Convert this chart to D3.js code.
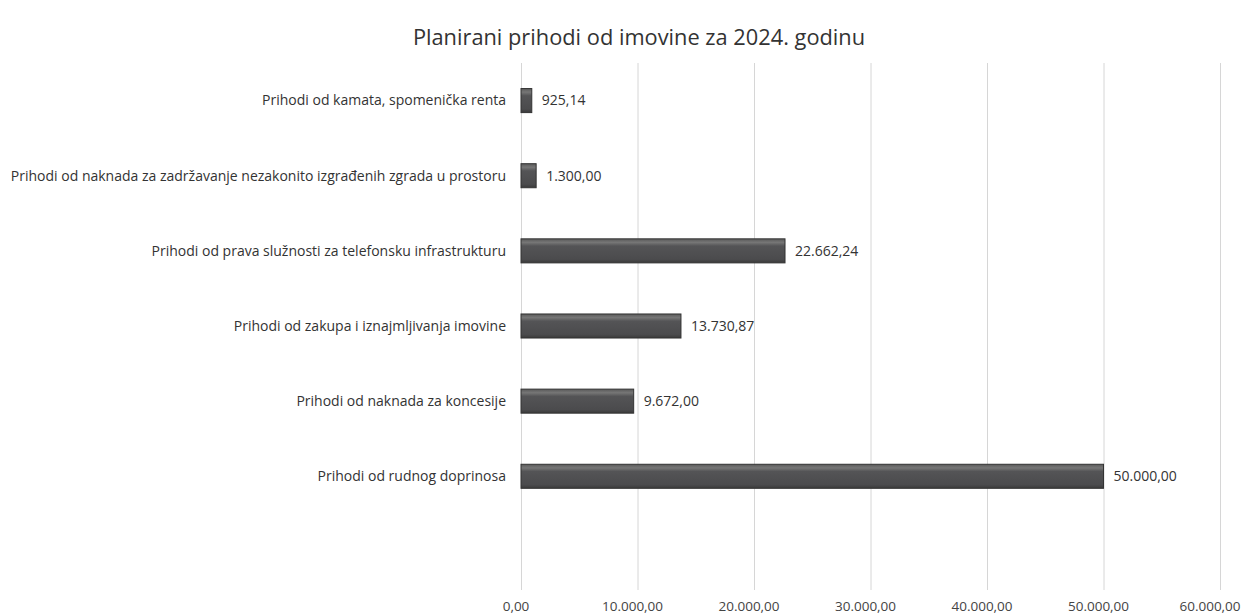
<!DOCTYPE html>
<html><head><meta charset="utf-8">
<script src="https://cdn.jsdelivr.net/npm/d3@7"></script>
<style>body{margin:0;background:#fff}svg{display:block}</style>
</head><body><svg id="c" width="1247" height="616"></svg>
<script>
const title = "Planirani prihodi od imovine za 2024. godinu";
const categories = [
  "Prihodi od kamata, spomenička renta",
  "Prihodi od naknada za zadržavanje nezakonito izgrađenih zgrada u prostoru",
  "Prihodi od prava služnosti za telefonsku infrastrukturu",
  "Prihodi od zakupa i iznajmljivanja imovine",
  "Prihodi od naknada za koncesije",
  "Prihodi od rudnog doprinosa",
  ""
];
const values = [925.14, 1300.00, 22662.24, 13730.87, 9672.00, 50000.00, null];
const tickValues = [0, 10000, 20000, 30000, 40000, 50000, 60000];

const locale = d3.formatLocale({decimal: ",", thousands: ".", grouping: [3], currency: ["", ""]});
const fmt = locale.format(",.2f");

const svg = d3.select("#c");
const font = "'Open Sans', 'Liberation Sans', sans-serif";
const x = d3.scaleLinear().domain([0, 60000]).range([521, 1220]);
const y = d3.scaleBand().domain(categories.map((c, i) => i)).range([63, 589]).paddingInner(0.68).paddingOuter(0.34);

const defs = svg.append("defs");
const g = defs.append("linearGradient").attr("id", "bar").attr("x1", 0).attr("y1", 0).attr("x2", 0).attr("y2", 1);
g.append("stop").attr("offset", "0").attr("stop-color", "#5a5a5a");
g.append("stop").attr("offset", "0.15").attr("stop-color", "#767676");
g.append("stop").attr("offset", "0.3").attr("stop-color", "#545456");
g.append("stop").attr("offset", "0.85").attr("stop-color", "#4b4b4d");
g.append("stop").attr("offset", "1").attr("stop-color", "#3a3a3a");

svg.append("text").attr("x", 639).attr("y", 45).attr("text-anchor", "middle")
  .attr("font-family", font).attr("font-size", 21.8).attr("fill", "#333").text(title);

// gridlines
svg.append("g").selectAll("line").data(tickValues).join("line")
  .attr("x1", d => x(d) + 0.5).attr("x2", d => x(d) + 0.5)
  .attr("y1", 63).attr("y2", 590).attr("stroke", "#d6d6d6").attr("stroke-width", 1);

// x axis tick labels
svg.append("g").selectAll("text").data(tickValues).join("text")
  .attr("x", d => Math.min(x(d) - 5, 1210)).attr("y", 611).attr("text-anchor", "middle")
  .attr("font-family", font).attr("font-size", 13.5).attr("fill", "#444").text(d => fmt(d));

const data = categories.map((c, i) => ({c, i, v: values[i]})).filter(d => d.v != null);

const bars = svg.append("g");
bars.selectAll("rect").data(data).join("rect")
  .attr("x", x(0)).attr("y", d => y(d.i))
  .attr("width", d => x(d.v) - x(0)).attr("height", y.bandwidth())
  .attr("fill", "url(#bar)").attr("stroke", "#333").attr("stroke-width", 1);

// category labels
svg.append("g").selectAll("text").data(data).join("text")
  .attr("x", 506).attr("y", d => y(d.i) + y.bandwidth() / 2).attr("dy", "0.35em")
  .attr("text-anchor", "end").attr("font-family", font).attr("font-size", 14).attr("fill", "#333")
  .text(d => d.c);

// value labels
svg.append("g").selectAll("text").data(data).join("text")
  .attr("x", d => x(d.v) + 10).attr("y", d => y(d.i) + y.bandwidth() / 2).attr("dy", "0.35em")
  .attr("font-family", font).attr("font-size", 14).attr("fill", "#333")
  .text(d => fmt(d.v));
</script></body></html>
